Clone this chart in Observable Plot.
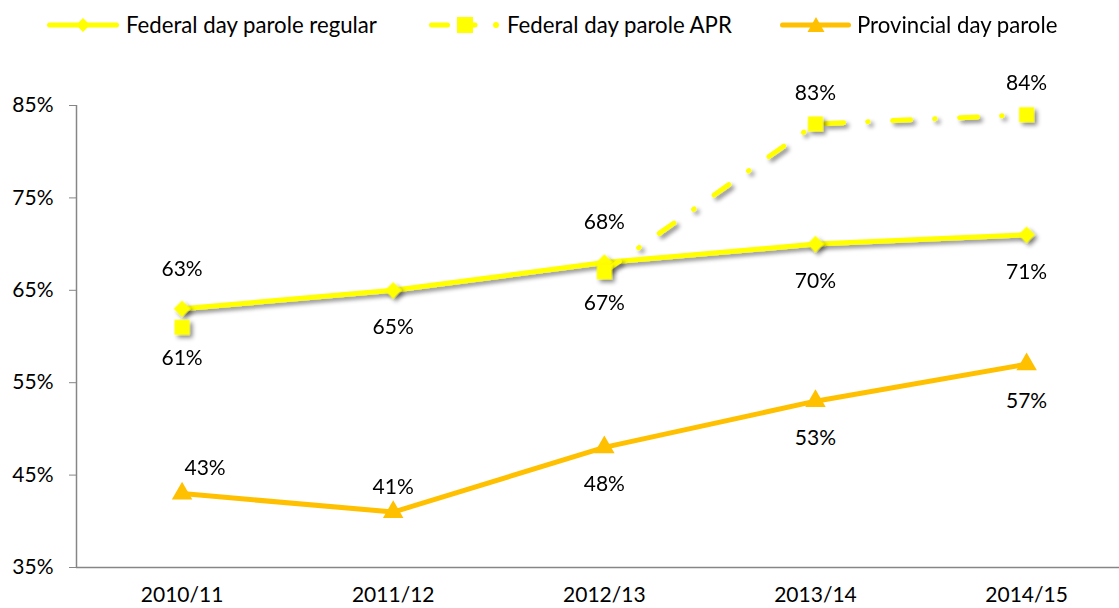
<!DOCTYPE html>
<html><head><meta charset="utf-8">
<script src="https://cdn.jsdelivr.net/npm/d3@7"></script>
<script src="https://cdn.jsdelivr.net/npm/@observablehq/plot@0.6"></script>
<style>
body{margin:0;background:#fff;font-family:Lato, sans-serif;}
#legend{position:relative;height:50px;width:1119px;font-size:22.2px;color:#000}
.item{position:absolute;top:0;height:50px;display:flex;align-items:center}
.lab{position:absolute;top:0;height:50px;line-height:50px;white-space:nowrap}
</style></head><body>
<div id="legend"></div>
<div id="chart"></div>
<script>
const years = ["2010/11","2011/12","2012/13","2013/14","2014/15"];
const regular = [63,65,68,70,71];
const apr = [61,null,67,83,84];
const provincial = [43,41,48,53,57];
const regularLabelPos = ["above","below","above","below","below"];
const aprLabelPos = ["below",null,"below","above","above"];
const provincialLabelPos = ["above-right","above","below","below","below"];
const seriesNames = ["Federal day parole regular","Federal day parole APR","Provincial day parole"];
const yTicks = [35,45,55,65,75,85];

const YELLOW = "#ffff00", ORANGE = "#ffc000", AXIS = "#868686";

function rows(values, pos) {
  return values.map((v, i) => ({i, year: years[i], value: v, pos: pos[i]}));
}
const regRows = rows(regular, regularLabelPos);
const aprRows = rows(apr, aprLabelPos);
const provRows = rows(provincial, provincialLabelPos);
const def = r => r.value != null;

function labels(data, offsets) {
  return Object.entries(offsets).map(([pos, [dx, dy]]) =>
    Plot.text(data.filter(d => def(d) && d.pos === pos), {
      x: "i", y: "value", text: d => d.value + "%", dx, dy, fill: "#000"
    }));
}

const chart = Plot.plot({
  width: 1119, height: 558,
  marginTop: 55, marginBottom: 41, marginLeft: 76, marginRight: 0,
  style: {fontFamily: "Lato, sans-serif", fontSize: "21px", color: "#000", background: "#fff"},
  x: {type: "linear", domain: [-0.5, 4.44], axis: null},
  y: {domain: [35, 85], axis: null, label: null},
  marks: [
    Plot.ruleY([35], {stroke: AXIS, strokeWidth: 1.5}),
    Plot.ruleX([-0.5], {stroke: AXIS, strokeWidth: 1.5, y1: 35, y2: 85}),
    Plot.axisY(yTicks, {tickFormat: d => d + "%", tickSize: 7, tickPadding: 16, stroke: AXIS, fill: "#000", label: null}),
    Plot.axisX(d3.range(years.length), {tickFormat: i => years[i], tickSize: 0, tickPadding: 20, fill: "#000", label: null}),
    // Provincial
    Plot.line(provRows, {x: "i", y: "value", stroke: ORANGE, strokeWidth: 5, strokeLinejoin: "round"}),
    Plot.dot(provRows, {x: "i", y: "value", symbol: "triangle", r: 7.6, fill: ORANGE, stroke: null}),
    // Regular
    Plot.line(regRows, {x: "i", y: "value", stroke: YELLOW, strokeWidth: 5, strokeLinejoin: "round"}),
    Plot.dot(regRows, {x: "i", y: "value", symbol: "diamond2", r: 7.5, fill: YELLOW, stroke: null}),
    // APR
    Plot.line(aprRows, {x: "i", y: "value", stroke: YELLOW, strokeWidth: 5, strokeLinecap: "round", strokeDasharray: "18,24,0.5,24.5"}),
    Plot.dot(aprRows.filter(def), {x: "i", y: "value", symbol: "square", r: 8.5, fill: YELLOW, stroke: null}),
    ...labels(regRows, {above: [0, -40], below: [0, 37]}),
    ...labels(aprRows, {above: [0, -31], below: [0, 31]}),
    ...labels(provRows, {above: [0, -25], "above-right": [23, -25], below: [0, 37]})
  ]
});

// drop shadow on the yellow series (as in the original)
const ns = "http://www.w3.org/2000/svg";
const defs = document.createElementNS(ns, "defs");
defs.innerHTML = '<filter id="shadow" x="-20%" y="-20%" width="140%" height="140%"><feDropShadow dx="3" dy="3" stdDeviation="2" flood-color="#000" flood-opacity="0.45"/></filter>';
chart.insertBefore(defs, chart.firstChild);
chart.querySelectorAll("g[aria-label]").forEach(g => {
  const s = (g.getAttribute("stroke") || "").toLowerCase();
  const f = (g.getAttribute("fill") || "").toLowerCase();
  if (s === YELLOW || f === YELLOW) g.setAttribute("filter", "url(#shadow)");
});
document.getElementById("chart").appendChild(chart);

// legend
const legend = document.getElementById("legend");
const swatches = [
  {left: 45, w: 76, svg: `<line x1="4.5" y1="25" x2="71.5" y2="25" stroke="${YELLOW}" stroke-width="5" stroke-linecap="round"/><path d="M38,18L45,25L38,32L31,25Z" fill="${YELLOW}"/>`, text: 126},
  {left: 426, w: 76, svg: `<line x1="5.5" y1="25" x2="21.5" y2="25" stroke="${YELLOW}" stroke-width="5" stroke-linecap="round"/><rect x="31" y="17" width="16" height="16" fill="${YELLOW}"/><line x1="47" y1="25" x2="49" y2="25" stroke="${YELLOW}" stroke-width="5" stroke-linecap="round"/><circle cx="70" cy="25" r="3" fill="${YELLOW}"/>`, text: 507},
  {left: 777, w: 78, svg: `<line x1="5.5" y1="25" x2="71.5" y2="25" stroke="${ORANGE}" stroke-width="5" stroke-linecap="round"/><path d="M39,17L47.5,32L30.5,32Z" fill="${ORANGE}"/>`, text: 857}
];
swatches.forEach((s, k) => {
  const d = document.createElement("div");
  d.className = "item";
  d.style.left = s.left + "px";
  d.innerHTML = `<svg width="${s.w}" height="50">${s.svg}</svg>`;
  legend.appendChild(d);
  const t = document.createElement("div");
  t.className = "lab";
  t.style.left = s.text + "px";
  t.textContent = seriesNames[k];
  legend.appendChild(t);
});
</script>
</body></html>
